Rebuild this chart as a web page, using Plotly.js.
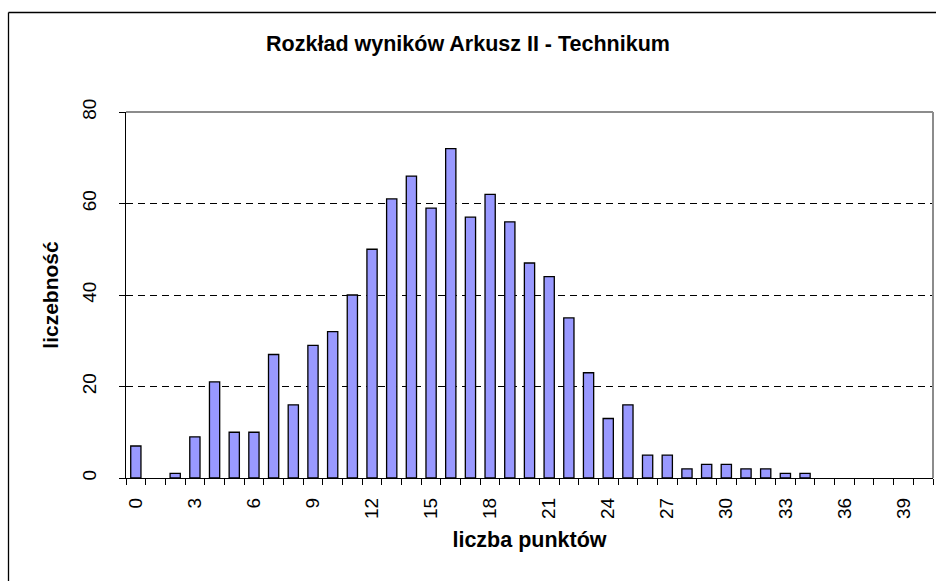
<!DOCTYPE html>
<html>
<head>
<meta charset="utf-8">
<script src="https://cdn.plot.ly/plotly-3.0.1.min.js"></script>
<style>
  html, body { margin: 0; padding: 0; background: #ffffff; }
  #chart { width: 936px; height: 581px; }
</style>
</head>
<body>
<div id="chart"></div>
<script>
// Data
const points = [0,1,2,3,4,5,6,7,8,9,10,11,12,13,14,15,16,17,18,19,20,21,22,23,24,25,26,27,28,29,30,31,32,33,34,35,36,37,38,39,40];
const counts = [7,0,1,9,21,10,10,27,16,29,32,40,50,61,66,59,72,57,62,56,47,44,35,23,13,16,5,5,2,3,3,2,2,1,1,0,0,0,0,0,0];
const xTickVals = [0,3,6,9,12,15,18,21,24,27,30,33,36,39];
const xTickText = ["0","3","6","9","12","15","18","21","24","27","30","33","36","39"];
const yTickVals = [0,20,40,60,80];

const chartTitle = "Rozkład wyników Arkusz II - Technikum";
const xTitle = "liczba punktów";
const yTitle = "liczebność";

const W = 936, H = 581;
const M = {l: 126, r: 3, t: 112, b: 103};
const plotW = W - M.l - M.r, plotH = H - M.t - M.b;
const px2paperX = p => (p - M.l) / plotW;
const px2paperY = p => 1 - (p - M.t) / plotH;

const FONT = "Arial, 'Liberation Sans', sans-serif";

// zero counts are drawn as no bar at all (as in the reference)
const barY = counts.map(v => (v === 0 ? null : v));

const trace = {
  type: 'bar',
  x: points,
  y: barY,
  marker: { color: '#9999FF', line: { color: '#000000', width: 1.3 } },
  hoverinfo: 'x+y'
};

const layout = {
  width: W, height: H,
  margin: M,
  paper_bgcolor: '#ffffff',
  plot_bgcolor: '#ffffff',
  showlegend: false,
  bargap: 0.48,
  font: { family: FONT, color: '#000000', size: 19 },
  title: {
    text: '<b>' + chartTitle + '</b>',
    font: { family: FONT, size: 21.5, color: '#000000' },
    x: 0.5, xref: 'container', xanchor: 'center',
    y: 1 - 43 / H, yref: 'container', yanchor: 'middle'
  },
  xaxis: {
    range: [-0.5, 40.5],
    tickmode: 'array',
    tickvals: xTickVals,
    ticktext: xTickText,
    tickangle: -90,
    ticks: '',
    ticklabelstandoff: 11,
    tickfont: { family: FONT, size: 19, color: '#000000' },
    minor: { tick0: 0.5, dtick: 1, ticks: 'outside', ticklen: 6, tickwidth: 1, tickcolor: '#000000', showgrid: false },
    showgrid: false,
    zeroline: false,
    showline: true, linecolor: '#000000', linewidth: 1.3,
    title: { text: '<b>' + xTitle + '</b>', font: { family: FONT, size: 21.5, color: '#000000' }, standoff: 14 },
    fixedrange: true
  },
  yaxis: {
    range: [0, 80],
    tickmode: 'array',
    tickvals: yTickVals,
    tickangle: -90,
    ticks: 'outside', ticklen: 6, tickwidth: 1, tickcolor: '#000000',
    ticklabelstandoff: 15,
    tickfont: { family: FONT, size: 19, color: '#000000' },
    showgrid: true, gridcolor: '#000000', gridwidth: 1, griddash: '7px,5px',
    zeroline: false,
    showline: true, linecolor: '#000000', linewidth: 1.3,
    title: { text: '<b>' + yTitle + '</b>', font: { family: FONT, size: 21, color: '#000000' }, standoff: 14 },
    fixedrange: true
  },
  shapes: [
    // plot-area border (top + right), grey
    { type: 'line', xref: 'paper', yref: 'paper', x0: 0, x1: 1, y0: 1, y1: 1, line: { color: '#8c8c8c', width: 2 }, layer: 'above' },
    { type: 'line', xref: 'paper', yref: 'paper', x0: 1, x1: 1, y0: 0, y1: 1, line: { color: '#8c8c8c', width: 2 }, layer: 'above' },
    // outer chart frame (left + top), black
    { type: 'line', xref: 'paper', yref: 'paper', x0: px2paperX(8.5), x1: px2paperX(8.5), y0: px2paperY(12.5), y1: px2paperY(H + 5), line: { color: '#000000', width: 1.3 }, layer: 'above' },
    { type: 'line', xref: 'paper', yref: 'paper', x0: px2paperX(8.5), x1: px2paperX(W + 5), y0: px2paperY(12.5), y1: px2paperY(12.5), line: { color: '#000000', width: 1.3 }, layer: 'above' }
  ]
};

Plotly.newPlot('chart', [trace], layout, { staticPlot: true, displayModeBar: false });
</script>
</body>
</html>
